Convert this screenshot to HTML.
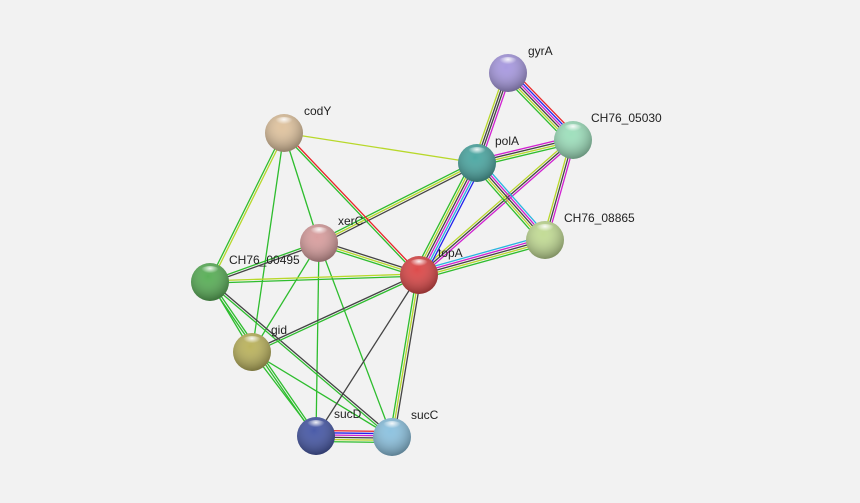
<!DOCTYPE html><html><head><style>body{margin:0;background:#f2f2f2}svg{display:block}text{font-family:"Liberation Sans",sans-serif;font-size:12px;fill:#222}</style></head><body>
<svg id="s" width="860" height="503" viewBox="0 0 860 503">
<defs>
<radialGradient id="g" cx="45%" cy="35%" r="65%"><stop offset="0" stop-color="#fff" stop-opacity=".0"/><stop offset="1" stop-color="#000" stop-opacity=".35"/></radialGradient>
<radialGradient id="h" cx="50%" cy="20%" r="40%"><stop offset="0" stop-color="#fff" stop-opacity=".9"/><stop offset="1" stop-color="#fff" stop-opacity="0"/></radialGradient>
</defs>
<rect width="860" height="503" fill="#f2f2f2"/>
<g id="e"></g><g id="n"></g>
</svg>
<script>
var N={gyrA:[508,73,'#a99be0','gyrA',528,55],c5030:[573,140,'#9fe0bd','CH76_05030',591,122],polA:[477,163,'#4fa9a4','polA',495,145],codY:[284,133,'#e0c4a0','codY',304,115],c8865:[545,240,'#c3dc96','CH76_08865',564,222],xerC:[319,243,'#d9a0a0','xerC',338,225],topA:[419,275,'#dd4b4b','topA',438,257],c495:[210,282,'#5cb05a','CH76_00495',229,264],gid:[252,352,'#bcb460','gid',271,334],sucD:[316,436,'#4a5ba8','sucD',334,418],sucC:[392,437,'#8ec3e0','sucC',411,419]};
var C={r:'#e8262a',b:'#2222ee',m:'#d020d0',k:'#444',y:'#b8d82a',g:'#2ebd2e',c:'#2ab4e0'};
var E=[['gyrA','polA','mkky'],['gyrA','c5030','rbmkyg'],['polA','c5030','mkyg'],['c5030','c8865','mky'],['c5030','topA','mky'],['polA','c8865','cmkyg'],['polA','topA','bcmkyg'],['topA','c8865','cmkyg'],['codY','polA','y'],['polA','xerC','kyg'],['codY','topA','rg'],['codY','xerC','g'],['codY','c495','yg'],['codY','gid','g'],['xerC','topA','kyg'],['xerC','c495','kg'],['xerC','gid','g'],['xerC','sucD','g'],['xerC','sucC','g'],['c495','topA','yg'],['c495','gid','g'],['c495','sucD','gg'],['c495','sucC','kg'],['gid','topA','kg'],['gid','sucD','g'],['gid','sucC','g'],['topA','sucD','k'],['topA','sucC','kyg'],['sucD','sucC','rbmkyg']];
var ns='http://www.w3.org/2000/svg',eg=document.getElementById('e'),ng=document.getElementById('n');
E.forEach(function(d){var a=N[d[0]],b=N[d[1]],dx=b[0]-a[0],dy=b[1]-a[1],L=Math.hypot(dx,dy),px=-dy/L,py=dx/L,n=d[2].length;
for(var i=0;i<n;i++){var o=(i-(n-1)/2)*2.2,l=document.createElementNS(ns,'line');
l.setAttribute('x1',a[0]+px*o);l.setAttribute('y1',a[1]+py*o);l.setAttribute('x2',b[0]+px*o);l.setAttribute('y2',b[1]+py*o);l.setAttribute('stroke',C[d[2][i]]);l.setAttribute('stroke-width',1.3);eg.appendChild(l);}});
for(var k in N){var v=N[k];
ng.innerHTML+='<circle cx="'+v[0]+'" cy="'+v[1]+'" r="19" fill="'+v[2]+'"/><circle cx="'+v[0]+'" cy="'+v[1]+'" r="19" fill="url(#g)"/><ellipse cx="'+v[0]+'" cy="'+(v[1]-10)+'" rx="11" ry="6" fill="url(#h)"/><text x="'+v[4]+'" y="'+(v[5])+'">'+v[3]+'</text>';}
</script>
</body></html>
